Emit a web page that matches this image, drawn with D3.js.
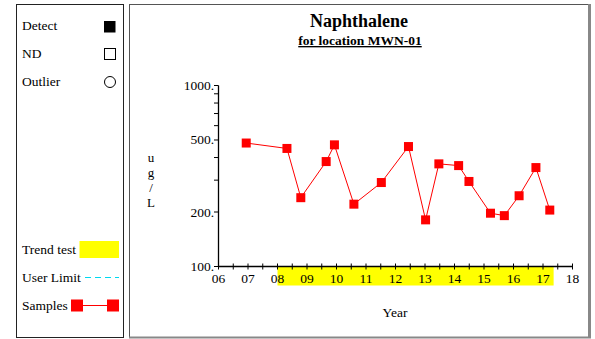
<!DOCTYPE html>
<html>
<head>
<meta charset="utf-8">
<script src="https://cdn.jsdelivr.net/npm/d3@7"></script>
<style>
  html, body { margin: 0; padding: 0; background: #fff; }
  svg text { font-family: 'Liberation Serif', 'Times New Roman', Times, serif; }
</style>
</head>
<body>
<svg id="chart" width="595" height="339"></svg>
<script>
// Sample dates (decimal years) and Naphthalene concentrations (ug/L)
const sampleYears = [2006.94, 2008.32, 2008.79, 2009.65, 2009.93, 2010.59, 2011.52, 2012.44,
                     2013.02, 2013.47, 2014.14, 2014.49, 2015.22, 2015.69, 2016.19, 2016.76, 2017.23];
const sampleValues = [481, 449, 240, 380, 470, 221, 291, 460,
                      181, 369, 361, 295, 197, 191, 246, 352, 205];

// Trend-test period
const trendStart = 2008.0;
const trendEnd = 2017.36;

// Axis ticks
const xTickYears = d3.range(2006, 2018.01, 1);
const xMinorYears = d3.range(2006, 2018.01, 0.5);
const yTickValues = [100, 200, 300, 400, 500, 600, 700, 800, 900, 1000];
const yLabelValues = [100, 200, 500, 1000];

const FONT = "'Liberation Serif', 'Times New Roman', serif";
const svg = d3.select("#chart").attr("font-family", FONT);

// ---- frames ----
svg.append("rect").attr("x", 16.5).attr("y", 4.5).attr("width", 107).attr("height", 333)
  .attr("fill", "none").attr("stroke", "#222").attr("stroke-width", 1);
svg.append("rect").attr("x", 129.5).attr("y", 4.5).attr("width", 459).attr("height", 333)
  .attr("fill", "none").attr("stroke", "#555").attr("stroke-width", 1);
svg.append("line").attr("x1", 589.5).attr("x2", 589.5).attr("y1", 4).attr("y2", 338)
  .attr("stroke", "#888").attr("stroke-width", 3);
svg.append("line").attr("x1", 129).attr("x2", 591).attr("y1", 337.5).attr("y2", 337.5)
  .attr("stroke", "#888").attr("stroke-width", 2);

// ---- legend ----
const legend = svg.append("g").attr("font-size", 13.5).attr("fill", "#000");
legend.append("text").attr("x", 22).attr("y", 30).text("Detect");
legend.append("rect").attr("x", 104).attr("y", 21).attr("width", 11.5).attr("height", 11.5).attr("fill", "#000");
legend.append("text").attr("x", 22).attr("y", 58).text("ND");
legend.append("rect").attr("x", 104.5).attr("y", 48.5).attr("width", 11).attr("height", 11)
  .attr("fill", "none").attr("stroke", "#000");
legend.append("text").attr("x", 22).attr("y", 86).text("Outlier");
legend.append("circle").attr("cx", 110).attr("cy", 82).attr("r", 5.5)
  .attr("fill", "none").attr("stroke", "#000");

legend.append("text").attr("x", 22).attr("y", 254).text("Trend test");
legend.append("rect").attr("x", 79.5).attr("y", 241).attr("width", 39.5).attr("height", 17).attr("fill", "#ffff00");
legend.append("text").attr("x", 22).attr("y", 282).text("User Limit");
legend.append("line").attr("x1", 85).attr("x2", 119).attr("y1", 277.5).attr("y2", 277.5)
  .attr("stroke", "#00d8f0").attr("stroke-width", 1.2).attr("stroke-dasharray", "6,4");
legend.append("text").attr("x", 22).attr("y", 310).text("Samples");
legend.append("line").attr("x1", 77).attr("x2", 113).attr("y1", 305.5).attr("y2", 305.5)
  .attr("stroke", "#ff0000").attr("stroke-width", 1);
legend.append("rect").attr("x", 71).attr("y", 299.5).attr("width", 12).attr("height", 12).attr("fill", "#ff0000");
legend.append("rect").attr("x", 107).attr("y", 299.5).attr("width", 12).attr("height", 12).attr("fill", "#ff0000");

// ---- titles ----
svg.append("text").attr("x", 359).attr("y", 27).attr("text-anchor", "middle")
  .attr("font-size", 18).attr("font-weight", "bold").text("Naphthalene");
svg.append("text").attr("x", 360).attr("y", 45).attr("text-anchor", "middle")
  .attr("font-size", 13.5).attr("font-weight", "bold").attr("text-decoration", "underline")
  .text("for location MWN-01");

// ---- scales ----
const x = d3.scaleLinear().domain([2006, 2018]).range([218.5, 572.5]);
const y = d3.scaleLog().domain([100, 1000]).range([266.5, 85.5]);
const axisY = 266.5;

// trend-test band under the x axis
svg.append("rect")
  .attr("x", x(trendStart)).attr("y", axisY)
  .attr("width", x(trendEnd) - x(trendStart)).attr("height", 19)
  .attr("fill", "#ffff00");

// x axis
const xAxis = svg.append("g").attr("stroke", "#000").attr("fill", "none");
xAxis.append("line").attr("x1", x(2006)).attr("x2", x(2018)).attr("y1", axisY).attr("y2", axisY)
  .attr("stroke-width", 1.3);
xAxis.selectAll("line.tick").data(xMinorYears).join("line").attr("class", "tick")
  .attr("x1", d => x(d)).attr("x2", d => x(d))
  .attr("y1", axisY - 3).attr("y2", axisY + 3).attr("stroke-width", 1);
svg.append("g").attr("font-size", 13.5).attr("text-anchor", "middle")
  .selectAll("text").data(xTickYears).join("text")
  .attr("x", d => x(d)).attr("y", 283)
  .text(d => String(d % 100).padStart(2, "0"));
svg.append("text").attr("x", 395).attr("y", 317).attr("text-anchor", "middle")
  .attr("font-size", 13.5).text("Year");

// y axis
const yAxis = svg.append("g").attr("stroke", "#000").attr("fill", "none");
yAxis.append("line").attr("x1", x(2006)).attr("x2", x(2006)).attr("y1", y(1000)).attr("y2", axisY)
  .attr("stroke-width", 1.3);
yAxis.selectAll("line.tick").data(yTickValues).join("line").attr("class", "tick")
  .attr("x1", x(2006) - 4.5).attr("x2", x(2006))
  .attr("y1", d => y(d)).attr("y2", d => y(d)).attr("stroke-width", 1);
svg.append("g").attr("font-size", 13.5).attr("text-anchor", "end")
  .selectAll("text").data(yLabelValues).join("text")
  .attr("x", 214).attr("y", d => y(d) + 4.5)
  .text(d => d + ".");

// stacked y-axis unit label
const unitChars = ["u", "g", "/", "L"];
svg.append("g").attr("font-size", 13).attr("text-anchor", "middle")
  .selectAll("text").data(unitChars).join("text")
  .attr("x", 151).attr("y", (d, i) => 162 + i * 15)
  .text(d => d);

// ---- samples ----
const samples = sampleYears.map((yr, i) => ({ yr, v: sampleValues[i] }));
svg.append("path").datum(samples)
  .attr("fill", "none").attr("stroke", "#ff0000").attr("stroke-width", 1)
  .attr("d", d3.line().x(d => x(d.yr)).y(d => y(d.v)));
svg.append("g").selectAll("rect").data(samples).join("rect")
  .attr("x", d => x(d.yr) - 4.5).attr("y", d => y(d.v) - 4.5)
  .attr("width", 9).attr("height", 9).attr("fill", "#ff0000");
</script>
</body>
</html>
